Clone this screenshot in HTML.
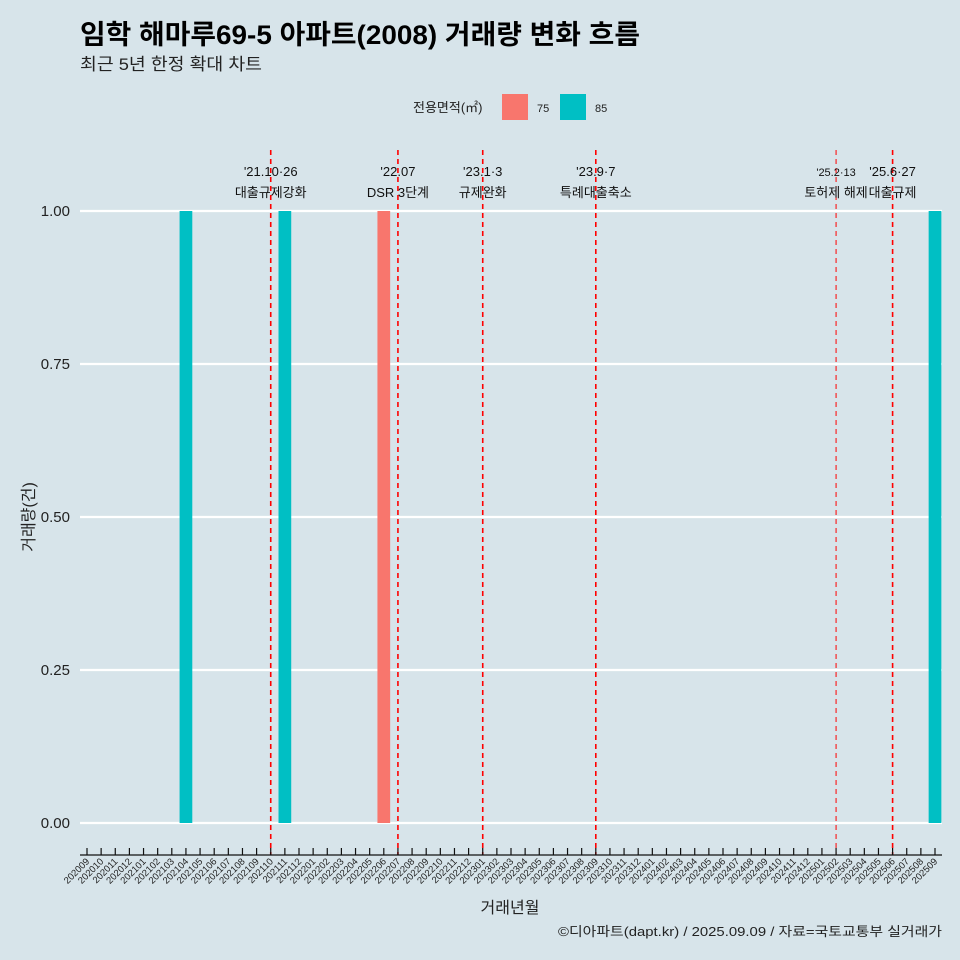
<!DOCTYPE html>
<html><head><meta charset="utf-8"><style>
html,body{margin:0;padding:0;background:#d7e4ea;overflow:hidden;width:960px;height:960px;}
svg{display:block;}
svg text{font-family:"Liberation Sans","Noto Sans CJK KR",sans-serif;}
</style></head><body>
<svg id="c" width="960" height="960" xmlns="http://www.w3.org/2000/svg">
<rect width="960" height="960" fill="#d7e4ea"/>
<text x="80" y="44" font-size="27" font-weight="bold" fill="#000" textLength="560" lengthAdjust="spacingAndGlyphs">임학 해마루69-5 아파트(2008) 거래량 변화 흐름</text>
<text x="80" y="70" font-size="17" fill="#222" textLength="182" lengthAdjust="spacingAndGlyphs">최근 5년 한정 확대 차트</text>
<g>
<text x="413" y="112" font-size="13" fill="#222">전용면적(㎡)</text>
<rect x="502" y="94" width="26" height="26" fill="#f8766d"/>
<text x="537" y="112" font-size="11" fill="#222">75</text>
<rect x="560" y="94" width="26" height="26" fill="#00bfc4"/>
<text x="595" y="112" font-size="11" fill="#222">85</text>
</g>
<g id="grid"></g><g id="bars"></g><g id="vlines"></g><g id="xaxis"></g>
<text transform="translate(34,517) rotate(-90)" text-anchor="middle" font-size="16" fill="#222">거래량(건)</text>
<text x="510" y="913" text-anchor="middle" font-size="16" fill="#222">거래년월</text>
<text x="558" y="936" font-size="13" fill="#222" textLength="384" lengthAdjust="spacingAndGlyphs">©디아파트(dapt.kr) / 2025.09.09 / 자료=국토교통부 실거래가</text>
</svg>
<script>
const months=[];for(let y=2020;y<=2025;y++)for(let m=1;m<=12;m++){const k=y*100+m;if(k>=202009&&k<=202509)months.push(String(k));}
const barMonths=["202104","202111","202206","202509"];
const barAreas=["85","85","75","85"];
const barValues=[1,1,1,1];
const yTicks=[0,0.25,0.5,0.75,1.0];
const yTickLabels=["0.00","0.25","0.50","0.75","1.00"];
const eventMonths=["202110","202207","202301","202309","202502","202506"];
const eventDates=["'21.10·26","'22.07","'23.1·3","'23.9·7","'25.2·13","'25.6·27"];
const eventLabels=["대출규제강화","DSR 3단계","규제완화","특례대출축소","토허제 해제","대출규제"];
const NS="http://www.w3.org/2000/svg";
const x0=87,x1=935,y0=823,y1=211;
const xs=i=>x0+i*(x1-x0)/(months.length-1);
const ys=v=>y0+(y1-y0)*v;
function mk(p,tag,a){const e=document.createElementNS(NS,tag);for(const k in a)e.setAttribute(k,a[k]);p.appendChild(e);return e;}
const g=document.getElementById('grid');
yTicks.forEach((v,i)=>{const l=mk(g,'line',{x1:80,x2:942,y1:ys(v),y2:ys(v),stroke:'#fff','stroke-width':2.2});


const t=mk(g,'text',{x:70,y:ys(v)+5,'text-anchor':'end','font-size':15,fill:'#222'});t.textContent=yTickLabels[i];

});
const b=document.getElementById('bars');const bw=0.9*(x1-x0)/(months.length-1);
barMonths.forEach((m,i)=>{const cx=xs(months.indexOf(m));const r=mk(b,'rect',{x:cx-bw/2,y:ys(barValues[i]),width:bw,height:y0-ys(barValues[i]),fill:barAreas[i]==="75"?'#f8766d':'#00bfc4'});

});
const vg=document.getElementById('vlines');
eventMonths.forEach((m,i)=>{const cx=xs(months.indexOf(m));const l=mk(vg,'line',{x1:cx,x2:cx,y1:150,y2:855,stroke:'#ff0000','stroke-width':m==="202502"?1:1.6,'stroke-dasharray':'5,4'});


const small=m==="202502";
const t1=mk(vg,'text',{x:cx,y:176,'text-anchor':'middle','font-size':small?11:13,fill:'#111'});t1.textContent=eventDates[i];


const t2=mk(vg,'text',{x:cx,y:197,'text-anchor':'middle','font-size':13,fill:'#111'});t2.textContent=eventLabels[i];

});
const xa=document.getElementById('xaxis');
const al=mk(xa,'line',{x1:80,x2:942,y1:855,y2:855,stroke:'#111','stroke-width':1.3});


months.forEach((m,i)=>{const cx=xs(i);const tk=mk(xa,'line',{x1:cx,x2:cx,y1:848,y2:855,stroke:'#111','stroke-width':1.2});


const t=mk(xa,'text',{transform:`translate(${cx+3},${862}) rotate(-45)`,'text-anchor':'end','font-size':9.5,fill:'#222'});t.textContent=m;

});
</script>
</body></html>
